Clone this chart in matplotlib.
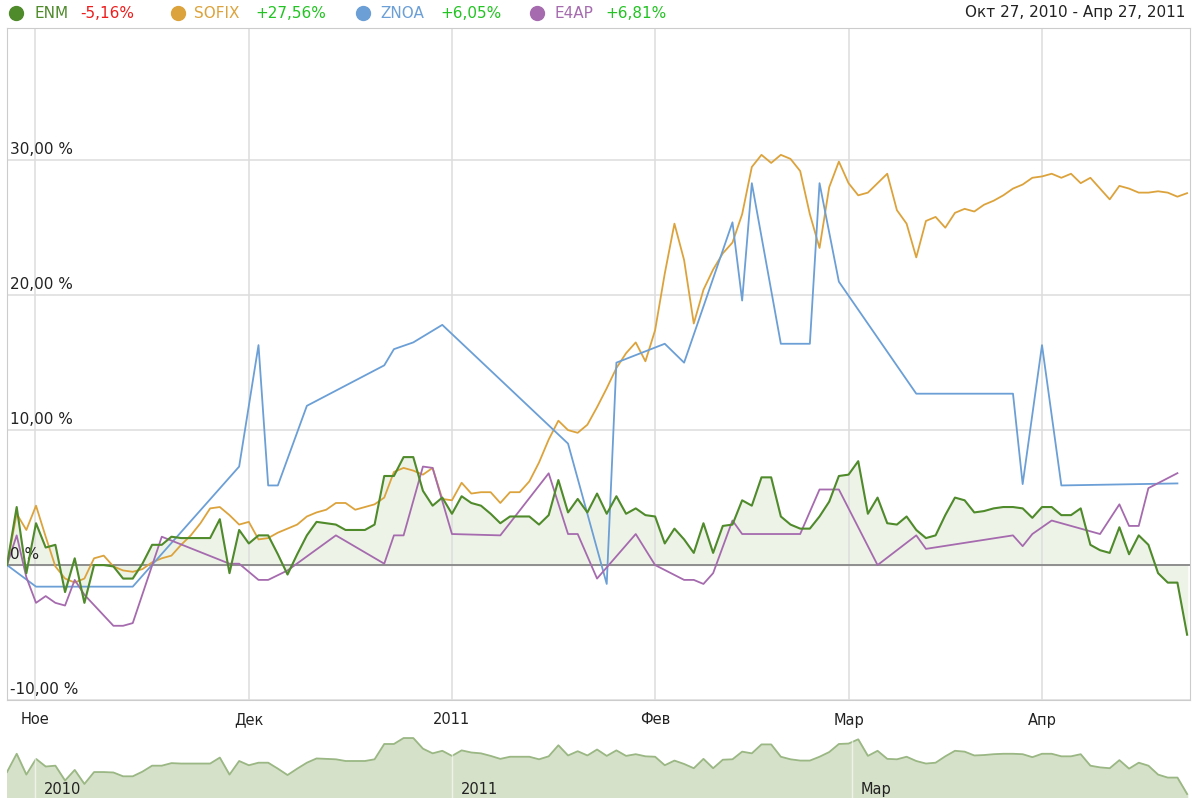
import numpy as np
import matplotlib.pyplot as plt
from matplotlib.lines import Line2D

W, H = 1192, 798

# % change since Oct 27, 2010, one value per trading day (index 0..122)
enm = [0.0, 4.3, -0.6, 3.1, 1.3, 1.5, -2.0, 0.5, -2.8, 0.0,
       0.0, -0.1, -1.0, -1.0, 0.1, 1.5, 1.5, 2.1, 2.0, 2.0,
       2.0, 2.0, 3.4, -0.6, 2.6, 1.6, 2.2, 2.2, 0.8, -0.7,
       0.8, 2.2, 3.2, 3.1, 3.0, 2.6, 2.6, 2.6, 3.0, 6.6,
       6.6, 8.0, 8.0, 5.5, 4.4, 5.0, 3.8, 5.1, 4.6, 4.4,
       3.8, 3.1, 3.6, 3.6, 3.6, 3.0, 3.7, 6.3, 3.9, 4.9,
       3.9, 5.3, 3.8, 5.1, 3.8, 4.2, 3.7, 3.6, 1.6, 2.7,
       1.9, 0.9, 3.1, 0.9, 2.9, 3.0, 4.8, 4.4, 6.5, 6.5,
       3.6, 3.0, 2.7, 2.7, 3.6, 4.7, 6.6, 6.7, 7.7, 3.8,
       5.0, 3.1, 3.0, 3.6, 2.6, 2.0, 2.2, 3.7, 5.0, 4.8,
       3.9, 4.0, 4.2, 4.3, 4.3, 4.2, 3.5, 4.3, 4.3, 3.7,
       3.7, 4.2, 1.5, 1.1, 0.9, 2.8, 0.8, 2.2, 1.5, -0.6,
       -1.3, -1.3, -5.16]

sofix = [0.0, 3.8, 2.6, 4.4, 2.1, -0.1, -1.0, -1.3, -1.0, 0.5,
         0.7, -0.1, -0.4, -0.5, -0.3, 0.2, 0.5, 0.7, 1.5, 2.2,
         3.1, 4.2, 4.3, 3.7, 3.0, 3.2, 1.9, 2.0, 2.4, 2.7,
         3.0, 3.6, 3.9, 4.1, 4.6, 4.6, 4.1, 4.3, 4.5, 5.0,
         6.9, 7.2, 7.0, 6.7, 7.2, 4.9, 4.8, 6.1, 5.3, 5.4,
         5.4, 4.6, 5.4, 5.4, 6.2, 7.6, 9.3, 10.7, 10.0, 9.8,
         10.4, 11.7, 13.1, 14.6, 15.7, 16.5, 15.1, 17.4, 21.6, 25.3,
         22.6, 17.9, 20.4, 21.9, 23.1, 23.9, 26.0, 29.5, 30.4, 29.8,
         30.4, 30.1, 29.2, 26.0, 23.5, 28.0, 29.9, 28.3, 27.4, 27.6,
         28.3, 29.0, 26.3, 25.3, 22.8, 25.5, 25.8, 25.0, 26.1, 26.4,
         26.2, 26.7, 27.0, 27.4, 27.9, 28.2, 28.7, 28.8, 29.0, 28.7,
         29.0, 28.3, 28.7, 27.9, 27.1, 28.1, 27.9, 27.6, 27.6, 27.7,
         27.6, 27.3, 27.56]

# ZNOA and E4AP only trade on some days
znoa_x = [0, 3, 13, 24, 26, 27, 28, 31, 39, 40, 42, 45, 58, 62, 63,
          68, 70, 75, 76, 77, 80, 83, 84, 86, 94, 104, 105, 107, 109, 121]
znoa = [0, -1.6, -1.6, 7.3, 16.3, 5.9, 5.9, 11.8, 14.8, 16.0, 16.5, 17.8, 9.0, -1.4, 15.0,
        16.4, 15.0, 25.4, 19.6, 28.3, 16.4, 16.4, 28.3, 21.0, 12.7, 12.7, 6.0, 16.3, 5.9, 6.05]

e4ap_x = [0, 1, 2, 3, 4, 5, 6, 7, 8, 11, 12, 13, 16, 23, 24, 26, 27, 29, 34, 39,
          40, 41, 43, 44, 46, 51, 56, 58, 59, 61, 65, 67, 70, 71, 72, 73, 75, 76, 82, 84,
          86, 90, 94, 95, 104, 105, 106, 108, 113, 115, 116, 117, 118, 121]
e4ap = [0, 2.2, -0.9, -2.8, -2.3, -2.8, -3.0, -1.1, -2.2, -4.5, -4.5, -4.3, 2.1, 0.1, 0.1, -1.1, -1.1, -0.4, 2.2, 0.1,
        2.2, 2.2, 7.3, 7.2, 2.3, 2.2, 6.8, 2.3, 2.3, -1.0, 2.3, 0.0, -1.1, -1.1, -1.4, -0.6, 3.3, 2.3, 2.3, 5.6,
        5.6, 0.0, 2.2, 1.2, 2.2, 1.4, 2.3, 3.3, 2.3, 4.5, 2.9, 2.9, 5.7, 6.81]

month_pos = [2.9, 25, 46, 67, 87, 107]
month_labels = ['Ное', 'Дек', '2011', 'Фев', 'Мар', 'Апр']
y_ticks = [-10, 0, 10, 20, 30]
y_labels = ['-10,00 %', '0 %', '10,00 %', '20,00 %', '30,00 %']
nav_pos = [2.9, 46, 87.4]
nav_labels = ['2010', '2011', 'Мар']

names = ['ENM', 'SOFIX', 'ZNOA', 'E4AP']
changes = ['-5,16%', '+27,56%', '+6,05%', '+6,81%']
colors = ['#4f8a2b', '#dca33c', '#6b9fd6', '#a56bae']

plt.rcParams['font.family'] = 'DejaVu Sans'
fig = plt.figure(figsize=(W / 100, H / 100), dpi=100)

# main chart
ax = fig.add_axes([7 / W, 1 - 700 / H, 1183 / W, 672 / H])
x = np.arange(len(enm))
ax.fill_between(x, enm, 0, color='#eef3e8', zorder=1)
ax.plot(x, sofix, color=colors[1], lw=1.3, zorder=3)
ax.plot(znoa_x, znoa, color=colors[2], lw=1.3, zorder=3)
ax.plot(e4ap_x, e4ap, color=colors[3], lw=1.3, zorder=3)
ax.plot(x, enm, color=colors[0], lw=1.5, zorder=4)
ax.axhline(0, color='#777777', lw=1.1, zorder=2)

ax.set_xlim(0, 122.3)
ax.set_ylim(-10, 39.8)
ax.set_yticks(y_ticks)
ax.set_xticks(month_pos, month_labels)
ax.tick_params(length=0, labelleft=False, labelsize=10.5, colors='#222222', pad=9)
ax.grid(True, color='#dddddd', lw=1.1, zorder=0)
for s in ax.spines.values():
    s.set_color('#cccccc')
for v, lab in zip(y_ticks, y_labels):
    ax.text(3 / 1183, v + 0.25, lab, transform=ax.get_yaxis_transform(),
            fontsize=11, color='#222222', va='bottom', ha='left')

# navigator strip
nav = fig.add_axes([7 / W, 0, 1183 / W, 74 / H])
nav.fill_between(x, enm, -7, color='#d6e1c9')
nav.plot(x, enm, color='#9ab784', lw=1.3)
nav.set_xlim(0, 122.3)
nav.set_ylim(-6.1, 11.3)
for p, lab in zip(nav_pos, nav_labels):
    nav.axvline(p, color='white', lw=1, alpha=0.6)
    nav.text(p + 0.9, -4.1, lab, fontsize=10.5, color='#222222', va='center', ha='left')
nav.axis('off')

# legend row
dot_x = [16, 178, 363, 537]
name_x = [34, 194, 380, 554]
chg_x = [80, 255, 440, 605]
for i in range(4):
    fig.add_artist(Line2D([dot_x[i] / W], [1 - 13 / H], marker='o', markersize=10,
                          color=colors[i], transform=fig.transFigure))
    fig.text(name_x[i] / W, 1 - 13 / H, names[i], color=colors[i],
             fontsize=11, va='center', ha='left')
    ch_color = '#ee1c1c' if changes[i].startswith('-') else '#22c322'
    fig.text(chg_x[i] / W, 1 - 13 / H, changes[i], color=ch_color,
             fontsize=11, va='center', ha='left')
fig.text(1185 / W, 1 - 13 / H, 'Окт 27, 2010 - Апр 27, 2011', color='#222222',
         fontsize=11, va='center', ha='right')

fig.savefig('out.png', dpi=100)
